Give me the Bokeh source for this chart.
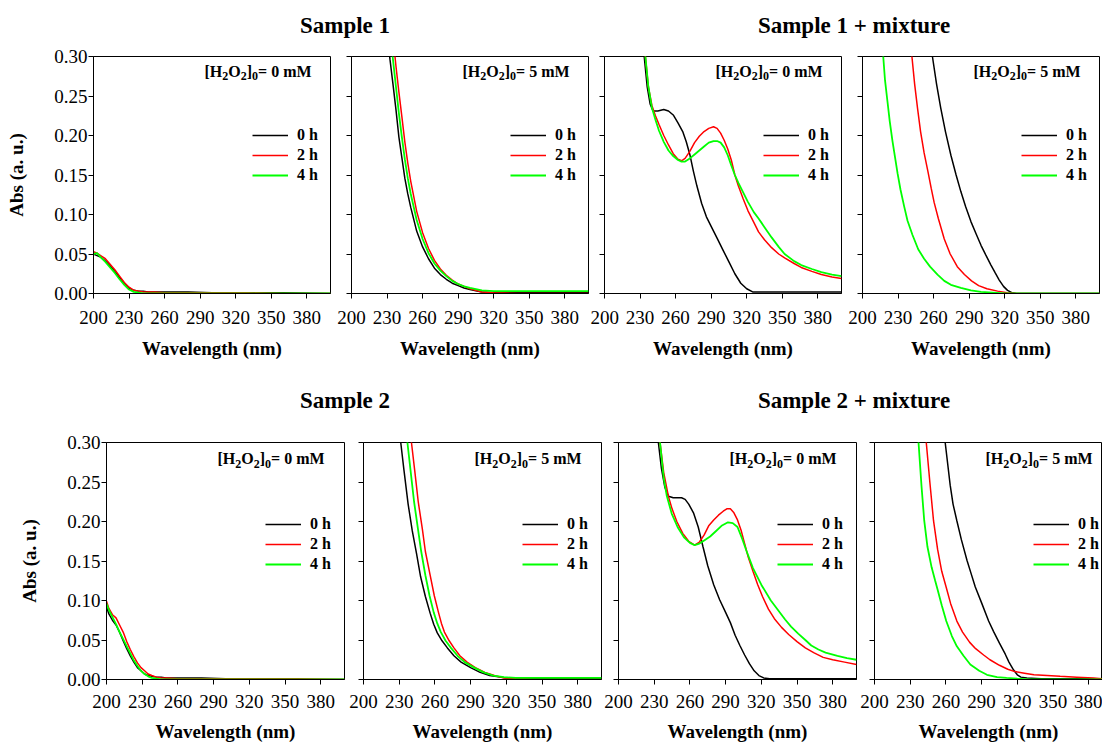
from bokeh.plotting import figure
from bokeh.layouts import column, row
from bokeh.models import Range1d, FixedTicker, NumeralTickFormatter, Legend, LegendItem, Label
from bokeh.embed import file_html
from bokeh.resources import INLINE
from bokeh.core.properties import value

FONT = "Liberation Serif"
X_TICKS = [200, 230, 260, 290, 320, 350, 380]
Y_TICKS = [0.0, 0.05, 0.10, 0.15, 0.20, 0.25, 0.30]
TIME_LABELS = ["0 h", "2 h", "4 h"]
COLORS = ["#000000", "#ff0000", "#00ff00"]
LINE_WIDTHS = [1.5, 1.5, 1.8]
# concentration label pieces: (text, is_subscript)
CONC_0 = [("[H", False), ("2", True), ("O", False), ("2", True), ("]", False), ("0", True), ("= 0 mM", False)]
CONC_5 = [("[H", False), ("2", True), ("O", False), ("2", True), ("]", False), ("0", True), ("= 5 mM", False)]
TITLES_TOP = ["Sample 1", "Sample 1 + mixture"]
TITLES_BOTTOM = ["Sample 2", "Sample 2 + mixture"]
X_LABEL = "Wavelength (nm)"
Y_LABEL = "Abs (a. u.)"

# ---------------- Sample 1, [H2O2]0 = 0 mM ----------------
s1_0_wl = [200, 203, 206, 210, 214, 218, 222, 226, 230, 234, 238, 242, 246, 250, 260, 280, 300, 330, 360, 400]
s1_0_0h = [0.050, 0.048, 0.046, 0.041, 0.035, 0.028, 0.020, 0.013, 0.007, 0.004, 0.003, 0.003, 0.002, 0.002, 0.002, 0.002, 0.001, 0.001, 0.001, 0.000]
s1_0_2h = [0.053, 0.051, 0.048, 0.044, 0.037, 0.030, 0.022, 0.014, 0.008, 0.004, 0.003, 0.002, 0.002, 0.002, 0.001, 0.001, 0.001, 0.001, 0.000, 0.000]
s1_0_4h = [0.050, 0.051, 0.046, 0.040, 0.033, 0.026, 0.018, 0.011, 0.005, 0.002, 0.001, 0.000, 0.000, 0.000, 0.000, 0.000, 0.000, 0.000, 0.000, 0.000]

# ---------------- Sample 1, [H2O2]0 = 5 mM ----------------
s1_5_wl = [225, 230, 232.5, 235, 237.5, 240, 242.5, 245, 247.5, 250, 255, 260, 265, 270, 275, 280, 285, 290, 295, 300, 310, 320, 340, 360, 380, 400]
s1_5_0h = [0.42, 0.33, 0.296, 0.265, 0.233, 0.198, 0.172, 0.146, 0.126, 0.109, 0.079, 0.059, 0.044, 0.032, 0.024, 0.018, 0.013, 0.010, 0.007, 0.005, 0.002, 0.001, 0.001, 0.001, 0.001, 0.001]
s1_5_2h = [0.50, 0.41, 0.37, 0.325, 0.288, 0.255, 0.224, 0.192, 0.165, 0.142, 0.104, 0.077, 0.057, 0.042, 0.031, 0.023, 0.017, 0.012, 0.009, 0.006, 0.002, 0.001, 0.000, 0.000, 0.000, 0.000]
s1_5_4h = [0.46, 0.37, 0.335, 0.296, 0.262, 0.228, 0.198, 0.170, 0.146, 0.126, 0.093, 0.069, 0.051, 0.038, 0.029, 0.022, 0.016, 0.012, 0.009, 0.007, 0.004, 0.003, 0.003, 0.003, 0.003, 0.003]

# ---------------- Sample 1 + mixture, 0 mM ----------------
s1m_0_wl_0h = [225, 230, 233.5, 236, 238.5, 241, 245, 250, 254, 258, 262, 266, 269, 272, 275, 278, 282, 286, 290, 295, 300, 305, 310, 315, 320, 325, 330, 360, 400]
s1m_0_0h = [0.42, 0.34, 0.30, 0.262, 0.240, 0.231, 0.231, 0.233, 0.231, 0.226, 0.216, 0.205, 0.192, 0.176, 0.155, 0.136, 0.114, 0.097, 0.085, 0.070, 0.055, 0.040, 0.025, 0.013, 0.006, 0.002, 0.002, 0.002, 0.002]
s1m_0_wl = [225, 230, 234.5, 237, 240, 243, 246, 250, 254, 258, 262, 265, 268, 272, 276, 280, 284, 288, 292, 295, 298, 301, 304, 307, 310, 313, 317, 321, 326, 330, 335, 341, 347, 352, 360, 366, 375, 383, 392, 400]
s1m_0_2h = [0.42, 0.34, 0.30, 0.262, 0.238, 0.225, 0.214, 0.200, 0.188, 0.177, 0.170, 0.168, 0.171, 0.180, 0.191, 0.199, 0.205, 0.209, 0.211, 0.209, 0.203, 0.194, 0.183, 0.169, 0.150, 0.136, 0.120, 0.105, 0.090, 0.078, 0.068, 0.058, 0.050, 0.045, 0.038, 0.033, 0.028, 0.024, 0.021, 0.019]
s1m_0_4h = [0.42, 0.34, 0.30, 0.262, 0.235, 0.220, 0.206, 0.192, 0.181, 0.174, 0.169, 0.167, 0.167, 0.171, 0.176, 0.181, 0.186, 0.191, 0.193, 0.193, 0.191, 0.185, 0.175, 0.162, 0.150, 0.140, 0.128, 0.116, 0.103, 0.095, 0.084, 0.071, 0.059, 0.050, 0.041, 0.036, 0.031, 0.027, 0.024, 0.022]

# ---------------- Sample 1 + mixture, 5 mM ----------------
s1m_5_wl_0h = [250, 255, 259, 262.5, 266, 270, 274.6, 279, 283, 287, 291.5, 296, 300, 304, 308.4, 312, 315.4, 319, 322.4, 326, 330, 400]
s1m_5_0h = [0.40, 0.34, 0.30, 0.265, 0.235, 0.205, 0.175, 0.150, 0.129, 0.110, 0.091, 0.075, 0.061, 0.049, 0.036, 0.026, 0.017, 0.009, 0.004, 0.001, 0.000, 0.000]
s1m_5_wl_2h = [235, 239, 241.7, 244, 246.4, 249, 252, 255.4, 258, 260.5, 264, 269, 274, 280, 286, 292, 298, 305, 314, 322, 330, 400]
s1m_5_2h = [0.40, 0.34, 0.30, 0.265, 0.235, 0.205, 0.178, 0.153, 0.133, 0.115, 0.095, 0.069, 0.050, 0.034, 0.024, 0.016, 0.010, 0.006, 0.003, 0.001, 0.000, 0.000]
s1m_5_wl_4h = [212, 215, 217.5, 219, 221, 223, 225.3, 227.5, 229.6, 232, 235.2, 238, 242.2, 247, 252, 257, 263.3, 269, 274.6, 283, 291.5, 300, 310, 320, 400]
s1m_5_4h = [0.40, 0.34, 0.30, 0.27, 0.244, 0.218, 0.193, 0.172, 0.152, 0.132, 0.110, 0.092, 0.074, 0.056, 0.044, 0.034, 0.024, 0.016, 0.011, 0.007, 0.004, 0.002, 0.001, 0.000, 0.000]

# ---------------- Sample 2, 0 mM ----------------
s2_0_wl = [200, 202, 205, 208, 211, 214, 217, 220, 223, 226, 229, 232, 235, 238, 242, 246, 250, 260, 280, 300, 330, 360, 400]
s2_0_0h = [0.092, 0.083, 0.075, 0.069, 0.060, 0.049, 0.039, 0.030, 0.022, 0.015, 0.011, 0.007, 0.005, 0.004, 0.003, 0.003, 0.002, 0.002, 0.002, 0.001, 0.001, 0.000, 0.000]
s2_0_2h = [0.099, 0.090, 0.082, 0.078, 0.069, 0.060, 0.048, 0.038, 0.029, 0.021, 0.015, 0.011, 0.007, 0.005, 0.003, 0.002, 0.002, 0.001, 0.001, 0.001, 0.001, 0.001, 0.000]
s2_0_4h = [0.096, 0.088, 0.079, 0.070, 0.060, 0.051, 0.042, 0.033, 0.024, 0.017, 0.011, 0.007, 0.004, 0.002, 0.001, 0.000, 0.000, 0.000, 0.000, 0.000, 0.000, 0.000, 0.000]

# ---------------- Sample 2, 5 mM ----------------
s2_5_wl_0h = [225, 228, 231.3, 234, 237.5, 241, 244.5, 248, 252, 256, 259, 262, 266, 270.5, 276, 282, 290, 298, 306, 315, 325, 400]
s2_5_0h = [0.40, 0.35, 0.30, 0.265, 0.222, 0.188, 0.160, 0.130, 0.105, 0.084, 0.070, 0.059, 0.049, 0.040, 0.030, 0.022, 0.015, 0.009, 0.005, 0.003, 0.001, 0.001]
s2_5_wl_2h = [232, 236, 240.3, 243, 246, 249.5, 252, 256, 259.5, 263, 265.5, 268, 272, 276, 281, 287, 294, 302, 310, 318, 328, 345, 400]
s2_5_2h = [0.42, 0.36, 0.30, 0.265, 0.225, 0.190, 0.162, 0.132, 0.106, 0.085, 0.071, 0.060, 0.049, 0.040, 0.030, 0.022, 0.015, 0.009, 0.005, 0.002, 0.001, 0.000, 0.000]
s2_5_wl_4h = [230, 233.5, 236.9, 239.5, 242.5, 246, 248.5, 252, 255.5, 259, 262, 265, 269, 273.5, 279, 285, 293, 301, 309, 318, 328, 400]
s2_5_4h = [0.40, 0.35, 0.30, 0.265, 0.225, 0.188, 0.162, 0.132, 0.106, 0.085, 0.071, 0.060, 0.049, 0.040, 0.030, 0.022, 0.015, 0.009, 0.005, 0.003, 0.002, 0.002]

# ---------------- Sample 2 + mixture, 0 mM ----------------
s2m_0_wl_0h = [225, 230, 233.5, 236, 239, 242, 246, 250, 253, 256, 259, 263, 267, 271, 275, 280, 285, 290, 294, 298, 302, 306, 310, 314, 318, 322, 327, 400]
s2m_0_0h = [0.42, 0.34, 0.30, 0.268, 0.243, 0.232, 0.230, 0.230, 0.230, 0.228, 0.222, 0.211, 0.193, 0.168, 0.144, 0.120, 0.101, 0.085, 0.072, 0.056, 0.043, 0.031, 0.020, 0.011, 0.005, 0.002, 0.001, 0.001]
s2m_0_wl_2h = [225, 230, 234.9, 238, 241.9, 245, 249, 254, 259, 264, 268, 272, 276, 280, 284, 288, 291, 294, 297, 300, 303, 306, 309, 313, 317, 321, 326, 331, 337, 343, 350, 357, 364, 372, 380, 390, 400]
s2m_0_2h = [0.42, 0.34, 0.30, 0.262, 0.232, 0.216, 0.200, 0.185, 0.175, 0.170, 0.174, 0.183, 0.195, 0.202, 0.208, 0.213, 0.216, 0.216, 0.211, 0.202, 0.189, 0.172, 0.155, 0.137, 0.120, 0.105, 0.089, 0.077, 0.066, 0.057, 0.048, 0.040, 0.034, 0.028, 0.025, 0.022, 0.019]
s2m_0_wl_4h = [225, 230, 234.9, 238, 240.5, 244.7, 250, 255, 260, 264, 268, 272, 277, 282, 287, 292, 296, 300, 304, 307.5, 313, 320, 328, 334, 340, 345, 351, 357, 362, 368, 374, 384, 392, 400]
s2m_0_4h = [0.42, 0.34, 0.30, 0.255, 0.233, 0.210, 0.192, 0.180, 0.173, 0.170, 0.172, 0.176, 0.181, 0.188, 0.195, 0.199, 0.198, 0.193, 0.178, 0.163, 0.141, 0.120, 0.100, 0.088, 0.076, 0.067, 0.058, 0.050, 0.043, 0.038, 0.034, 0.030, 0.027, 0.025]

# ---------------- Sample 2 + mixture, 5 mM ----------------
s2m_5_wl_0h = [252, 255, 259.4, 263.6, 266, 269.2, 273, 277.7, 281, 284.7, 290, 295.9, 300, 305, 309.9, 313, 316.9, 320, 323, 328, 340, 392]
s2m_5_0h = [0.40, 0.355, 0.30, 0.246, 0.222, 0.201, 0.177, 0.151, 0.135, 0.117, 0.097, 0.074, 0.061, 0.046, 0.032, 0.022, 0.012, 0.006, 0.003, 0.002, 0.001, 0.001]
s2m_5_wl_2h = [236, 239.5, 243.5, 246.5, 249.6, 253, 256.5, 260.3, 264, 269.2, 274, 280, 285, 291.7, 297, 305, 312, 318, 326, 334, 345, 356, 370, 384, 392]
s2m_5_2h = [0.40, 0.35, 0.30, 0.25, 0.201, 0.165, 0.137, 0.1165, 0.096, 0.074, 0.060, 0.047, 0.039, 0.031, 0.025, 0.018, 0.013, 0.010, 0.008, 0.006, 0.005, 0.004, 0.003, 0.002, 0.001]
s2m_5_wl_4h = [230, 233.5, 237, 239.5, 241.8, 244.5, 248, 251, 253, 256.5, 260.3, 265, 269.2, 274.8, 280.5, 288, 294.5, 303, 311, 320, 330, 392]
s2m_5_4h = [0.42, 0.36, 0.30, 0.245, 0.201, 0.168, 0.142, 0.125, 0.114, 0.094, 0.074, 0.055, 0.042, 0.030, 0.019, 0.011, 0.006, 0.003, 0.002, 0.001, 0.000, 0.000]

# ---------------- layout constants (pixels) ----------------
W = 1102
X_START = 200.0
PX_PER_NM = 238.0 / 200.0
TOP_STRIP_H, BOT_STRIP_H = 40, 48
TITLE_CENTERS = [344.5, 853.5]
MAIN_PX, SUB_PX = 16, 12
# Times/Liberation Serif Bold advance widths (em)
ADV = {"[": 0.333, "H": 0.778, "O": 0.778, "]": 0.333, "=": 0.570, " ": 0.25,
       "0": 0.5, "2": 0.5, "5": 0.5, "m": 0.833, "M": 0.944}


def text_width(t, px):
    return sum(ADV.get(ch, 0.5) for ch in t) * px


def style_axis(ax):
    ax.axis_line_color = "black"
    ax.axis_line_width = 1
    ax.major_tick_line_color = "black"
    ax.major_tick_in = 0
    ax.major_tick_out = 5
    ax.minor_tick_line_color = None
    ax.major_label_text_font = FONT
    ax.major_label_text_font_size = "19px"
    ax.major_label_text_color = "black"
    ax.axis_label_text_font = FONT
    ax.axis_label_text_font_style = "bold"
    ax.axis_label_text_font_size = "19px"
    ax.axis_label_text_color = "black"


def make_panel(series, conc, fig_w, fig_h, b_left, b_right, b_top, b_bottom, first,
               tick_stand, lab_stand, conc_dy, legend_dy):
    frame_w = fig_w - b_left - b_right
    frame_h = fig_h - b_top - b_bottom
    x_end = X_START + frame_w / PX_PER_NM if frame_w < 237 else 400.0
    p = figure(width=fig_w, height=fig_h,
               x_range=Range1d(X_START, x_end), y_range=Range1d(0, 0.30),
               output_backend="svg", toolbar_location=None,
               min_border_left=b_left, min_border_right=b_right,
               min_border_top=b_top, min_border_bottom=b_bottom)
    p.grid.visible = False
    p.outline_line_color = "black"
    p.outline_line_width = 1
    p.background_fill_color = "white"
    p.border_fill_color = "white"

    rends = []
    for (wl, ab), col, lw in zip(series, COLORS, LINE_WIDTHS):
        rends.append(p.line(wl, ab, line_color=col, line_width=lw))

    xa = p.xaxis[0]
    ya = p.yaxis[0]
    style_axis(xa)
    style_axis(ya)
    xa.ticker = FixedTicker(ticks=X_TICKS, minor_ticks=[])
    xa.axis_label = X_LABEL
    xa.major_label_standoff = tick_stand
    xa.axis_label_standoff = lab_stand
    ya.ticker = FixedTicker(ticks=Y_TICKS, minor_ticks=[])
    ya.formatter = NumeralTickFormatter(format="0.00")
    ya.major_label_standoff = 1
    if first:
        ya.axis_label = Y_LABEL
        ya.axis_label_standoff = 24
    else:
        ya.major_label_text_font_size = "0px"
        ya.major_label_text_color = None

    top_item = legend_dy - 10
    legend = Legend(items=[LegendItem(label=value(t), renderers=[r]) for t, r in zip(TIME_LABELS, rends)],
                    location=(159, frame_h - top_item - 60), orientation="vertical",
                    glyph_width=36, glyph_height=20, label_height=20, spacing=0,
                    padding=0, margin=0, label_standoff=9,
                    border_line_color=None, background_fill_alpha=0,
                    label_text_font=FONT, label_text_font_style="bold",
                    label_text_font_size="16px", label_text_color="black")
    p.add_layout(legend)

    # concentration label built from normal and subscript pieces
    px_per_x = frame_w / (x_end - X_START)
    px_per_y = frame_h / 0.30
    cursor = 111.0
    for t, sub in conc:
        size = SUB_PX if sub else MAIN_PX
        dy = conc_dy + (5 if sub else 0)
        p.add_layout(Label(x=X_START + cursor / px_per_x, y=0.30 - dy / px_per_y,
                           text=t, text_font=FONT, text_font_style="bold",
                           text_font_size=f"{size}px", text_align="left",
                           text_baseline="middle", text_color="black"))
        cursor += text_width(t, size)
    return p


def title_strip(texts, h, center_from_top):
    s = figure(width=W, height=h, x_range=Range1d(0, W), y_range=Range1d(0, h),
               x_axis_type=None, y_axis_type=None, output_backend="svg",
               toolbar_location=None, min_border=0,
               min_border_left=0, min_border_right=0, min_border_top=0, min_border_bottom=0)
    s.grid.visible = False
    s.outline_line_color = None
    for t, cx in zip(texts, TITLE_CENTERS):
        s.add_layout(Label(x=cx, y=h - center_from_top, text=t, text_align="center",
                           text_baseline="middle", text_font=FONT,
                           text_font_style="bold", text_font_size="23px", text_color="black"))
    return s


top_series = [
    [(s1_0_wl, s1_0_0h), (s1_0_wl, s1_0_2h), (s1_0_wl, s1_0_4h)],
    [(s1_5_wl, s1_5_0h), (s1_5_wl, s1_5_2h), (s1_5_wl, s1_5_4h)],
    [(s1m_0_wl_0h, s1m_0_0h), (s1m_0_wl, s1m_0_2h), (s1m_0_wl, s1m_0_4h)],
    [(s1m_5_wl_0h, s1m_5_0h), (s1m_5_wl_2h, s1m_5_2h), (s1m_5_wl_4h, s1m_5_4h)],
]
bot_series = [
    [(s2_0_wl, s2_0_0h), (s2_0_wl, s2_0_2h), (s2_0_wl, s2_0_4h)],
    [(s2_5_wl_0h, s2_5_0h), (s2_5_wl_2h, s2_5_2h), (s2_5_wl_4h, s2_5_4h)],
    [(s2m_0_wl_0h, s2m_0_0h), (s2m_0_wl_2h, s2m_0_2h), (s2m_0_wl_4h, s2m_0_4h)],
    [(s2m_5_wl_0h, s2m_5_0h), (s2m_5_wl_2h, s2m_5_2h), (s2m_5_wl_4h, s2m_5_4h)],
]
concs = [CONC_0, CONC_5, CONC_0, CONC_5]

top_geom = [(332, 93, 2), (258, 19, 2), (253, 14, 2), (259, 19, 3)]
bot_geom = [(346, 106, 2), (257, 17, 2), (255, 15, 2), (244, 16, 0)]

top_figs = [make_panel(s, c, w, 332, l, r, 16, 79, i == 0, 12, 11, 14.5, 79)
            for i, (s, c, (w, l, r)) in enumerate(zip(top_series, concs, top_geom))]
bot_figs = [make_panel(s, c, w, 324, l, r, 22, 65, i == 0, 10, 10, 16, 82)
            for i, (s, c, (w, l, r)) in enumerate(zip(bot_series, concs, bot_geom))]

layout = column(title_strip(TITLES_TOP, TOP_STRIP_H, 24.5),
                row(*top_figs),
                title_strip(TITLES_BOTTOM, BOT_STRIP_H, 27.5),
                row(*bot_figs))

open("out.html", "w").write(file_html(layout, INLINE))
